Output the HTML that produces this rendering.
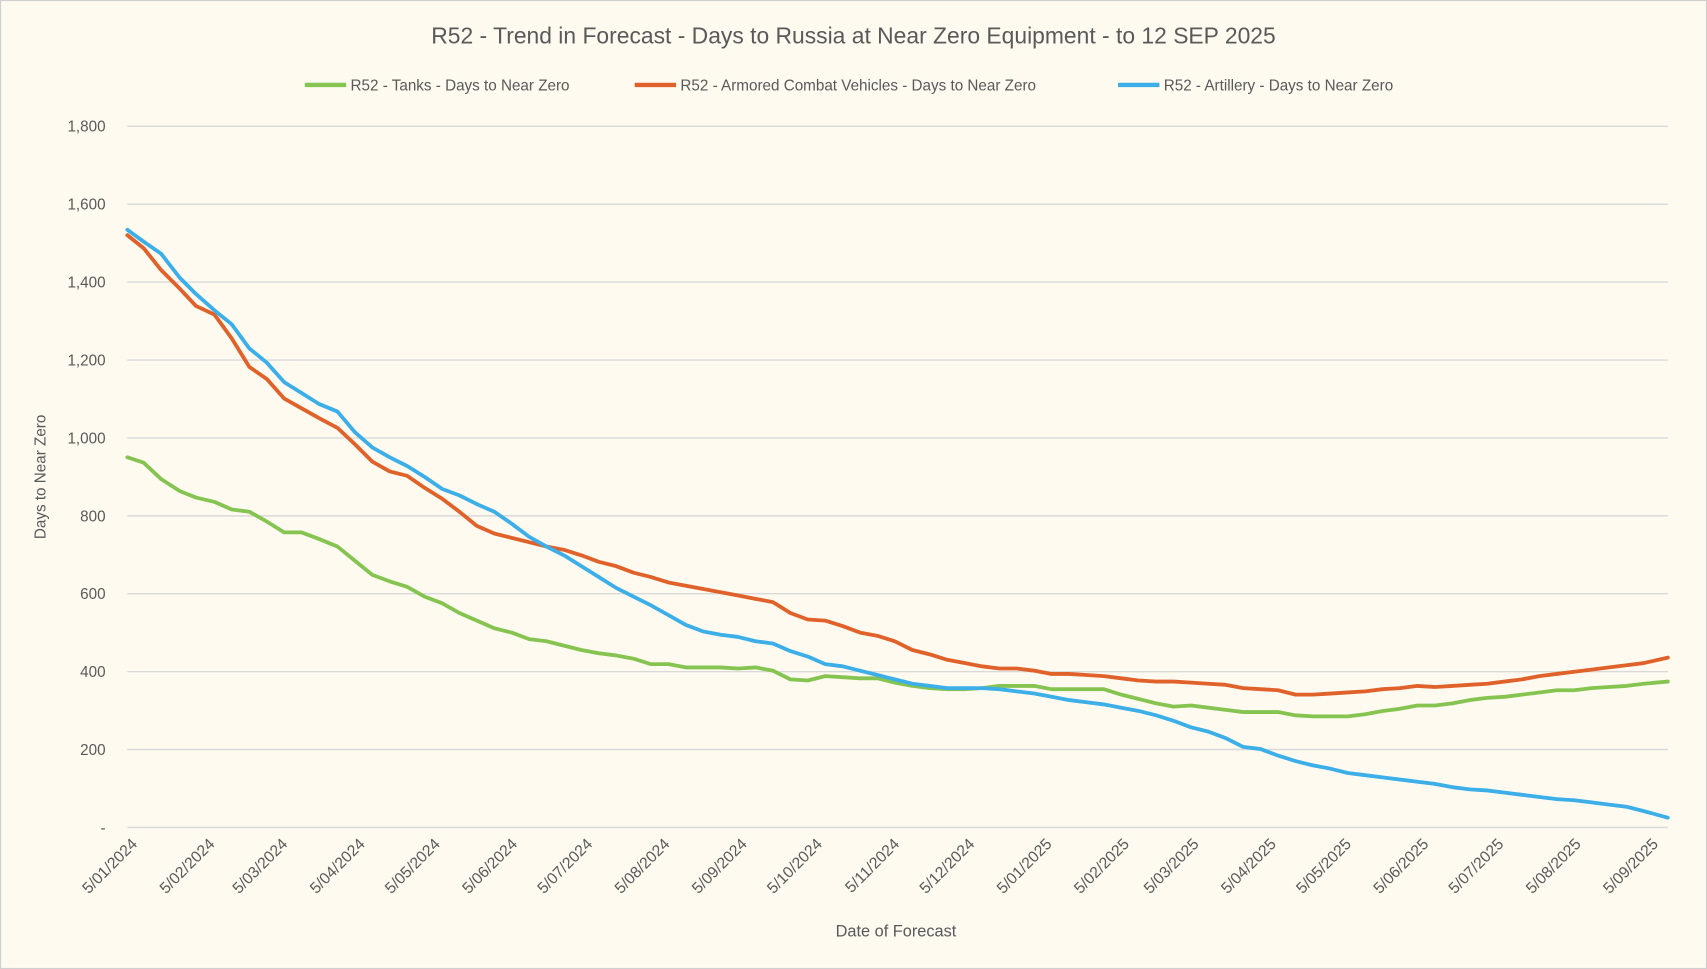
<!DOCTYPE html>
<html><head><meta charset="utf-8"><style>
html,body{margin:0;padding:0;background:#fefaf0;}
svg{display:block;font-family:"Liberation Sans",sans-serif;}
</style></head><body>
<svg width="1707" height="969" viewBox="0 0 1568 890" preserveAspectRatio="none" xmlns="http://www.w3.org/2000/svg">
<rect x="0.5" y="0.5" width="1567" height="889" fill="#fefaf0" stroke="#d0d0d0"/>
<text x="784" y="40" text-anchor="middle" font-size="21" fill="#595959">R52 - Trend in Forecast - Days to Russia at Near Zero Equipment - to 12 SEP 2025</text>
<g font-size="14" fill="#595959">
<line x1="280" y1="78" x2="318" y2="78" stroke="#86c451" stroke-width="4"/><text x="322" y="83">R52 - Tanks - Days to Near Zero</text>
<line x1="583" y1="78" x2="621" y2="78" stroke="#e0622a" stroke-width="4"/><text x="625" y="83">R52 - Armored Combat Vehicles - Days to Near Zero</text>
<line x1="1027" y1="78" x2="1065" y2="78" stroke="#3caee8" stroke-width="4"/><text x="1069" y="83">R52 - Artillery - Days to Near Zero</text>
</g>
<g stroke="#d9d9d9" stroke-width="1.3">
<line x1="117" x2="1532" y1="116" y2="116"/><line x1="117" x2="1532" y1="187.6" y2="187.6"/><line x1="117" x2="1532" y1="259.1" y2="259.1"/><line x1="117" x2="1532" y1="330.7" y2="330.7"/><line x1="117" x2="1532" y1="402.2" y2="402.2"/><line x1="117" x2="1532" y1="473.8" y2="473.8"/><line x1="117" x2="1532" y1="545.3" y2="545.3"/><line x1="117" x2="1532" y1="616.9" y2="616.9"/><line x1="117" x2="1532" y1="688.4" y2="688.4"/><line x1="117" x2="1532" y1="760" y2="760"/>
</g>
<g font-size="14" fill="#595959" text-anchor="end">
<text x="97" y="121">1,800</text><text x="97" y="192.6">1,600</text><text x="97" y="264.1">1,400</text><text x="97" y="335.7">1,200</text><text x="97" y="407.2">1,000</text><text x="97" y="478.8">800</text><text x="97" y="550.3">600</text><text x="97" y="621.9">400</text><text x="97" y="693.4">200</text><text x="97" y="765">-</text>
</g>
<text transform="translate(42,438) rotate(-90)" text-anchor="middle" font-size="14" fill="#595959">Days to Near Zero</text>
<text x="823" y="860" text-anchor="middle" font-size="15" fill="#595959">Date of Forecast</text>
<g font-size="14.5" fill="#595959" text-anchor="end">
<text transform="translate(127,776) rotate(-45)">5/01/2024</text>
<text transform="translate(198,776) rotate(-45)">5/02/2024</text>
<text transform="translate(265,776) rotate(-45)">5/03/2024</text>
<text transform="translate(336,776) rotate(-45)">5/04/2024</text>
<text transform="translate(405,776) rotate(-45)">5/05/2024</text>
<text transform="translate(476,776) rotate(-45)">5/06/2024</text>
<text transform="translate(545,776) rotate(-45)">5/07/2024</text>
<text transform="translate(616,776) rotate(-45)">5/08/2024</text>
<text transform="translate(687,776) rotate(-45)">5/09/2024</text>
<text transform="translate(756,776) rotate(-45)">5/10/2024</text>
<text transform="translate(827,776) rotate(-45)">5/11/2024</text>
<text transform="translate(896,776) rotate(-45)">5/12/2024</text>
<text transform="translate(967,776) rotate(-45)">5/01/2025</text>
<text transform="translate(1038,776) rotate(-45)">5/02/2025</text>
<text transform="translate(1102,776) rotate(-45)">5/03/2025</text>
<text transform="translate(1173,776) rotate(-45)">5/04/2025</text>
<text transform="translate(1242,776) rotate(-45)">5/05/2025</text>
<text transform="translate(1313,776) rotate(-45)">5/06/2025</text>
<text transform="translate(1382,776) rotate(-45)">5/07/2025</text>
<text transform="translate(1453,776) rotate(-45)">5/08/2025</text>
<text transform="translate(1524,776) rotate(-45)">5/09/2025</text>
</g>
<g fill="none" stroke-width="3.5" stroke-linejoin="round" stroke-linecap="round">
<polyline stroke="#86c451" points="117,420 132,425 148,440 165,451 180,457 197,461 213,468 229,470 245,479 261,489 277,489 293,495 310,502 326,515 342,528 358,534 374,539 390,548 406,554 422,563 438,570 454,577 470,581 486,587 502,589 518,593 534,597 550,600 566,602 582,605 598,610 614,610 630,613 646,613 662,613 678,614 694,613 710,616 726,624 742,625 758,621 774,622 790,623 806,623 822,627 838,630 854,632 870,633 886,633 902,632 918,630 934,630 950,630 966,633 982,633 998,633 1014,633 1030,638 1046,642 1062,646 1078,649 1094,648 1110,650 1126,652 1142,654 1158,654 1174,654 1190,657 1206,658 1222,658 1238,658 1254,656 1270,653 1286,651 1302,648 1318,648 1334,646 1350,643 1366,641 1382,640 1398,638 1414,636 1430,634 1446,634 1462,632 1478,631 1494,630 1510,628 1532,626"/>
<polyline stroke="#e0622a" points="117,216 132,228 148,248 165,265 180,281 197,289 213,311 229,337 245,348 261,366 277,375 293,384 310,393 326,408 342,424 358,433 374,437 390,448 406,458 422,470 438,483 454,490 470,494 486,498 502,502 518,505 534,510 550,516 566,520 582,526 598,530 614,535 630,538 646,541 662,544 678,547 694,550 710,553 726,563 742,569 758,570 774,575 790,581 806,584 822,589 838,597 854,601 870,606 886,609 902,612 918,614 934,614 950,616 966,619 982,619 998,620 1014,621 1030,623 1046,625 1062,626 1078,626 1094,627 1110,628 1126,629 1142,632 1158,633 1174,634 1190,638 1206,638 1222,637 1238,636 1254,635 1270,633 1286,632 1302,630 1318,631 1334,630 1350,629 1366,628 1382,626 1398,624 1414,621 1430,619 1446,617 1462,615 1478,613 1494,611 1510,609 1532,604"/>
<polyline stroke="#3caee8" points="117,211 132,222 148,233 165,255 180,270 197,285 213,298 229,320 245,333 261,351 277,361 293,371 310,378 326,397 342,411 358,420 374,428 390,438 406,449 422,455 438,463 454,470 470,481 486,493 502,502 518,510 534,520 550,530 566,540 582,548 598,556 614,565 630,574 646,580 662,583 678,585 694,589 710,591 726,598 742,603 758,610 774,612 790,616 806,620 822,624 838,628 854,630 870,632 886,632 902,632 918,633 934,635 950,637 966,640 982,643 998,645 1014,647 1030,650 1046,653 1062,657 1078,662 1094,668 1110,672 1126,678 1142,686 1158,688 1174,694 1190,699 1206,703 1222,706 1238,710 1254,712 1270,714 1286,716 1302,718 1318,720 1334,723 1350,725 1366,726 1382,728 1398,730 1414,732 1430,734 1446,735 1462,737 1478,739 1494,741 1510,745 1532,751"/>
</g>
</svg>
</body></html>
